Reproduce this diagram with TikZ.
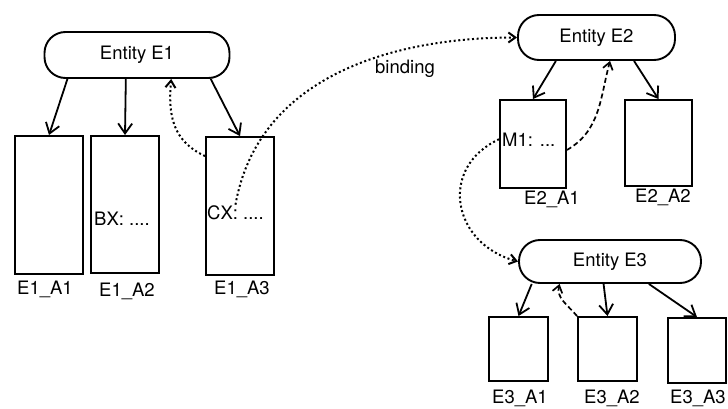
\documentclass[tikz,border=0pt]{standalone}
\usepackage{fontspec}
\setmainfont{TeX Gyre Heros}
\usepackage{tikz}
\usetikzlibrary{arrows.meta}

\begin{document}
\begin{tikzpicture}[
  x=1pt, y=1pt,
  font=\fontsize{18.5}{22}\selectfont,
  entity/.style={draw, line width=1.9pt, rounded corners=21pt, inner sep=0pt},
  attr/.style={draw, line width=1.9pt, inner sep=0pt},
  slot/.style={anchor=west, inner sep=1pt},
  lbl/.style={inner sep=0pt},
  arrow/.style={-{Straight Barb[length=10pt,width=14pt]}, line width=1.8pt},
  dotarrow/.style={-{Straight Barb[length=7pt,width=10pt]}, line width=2pt, dash pattern=on 2pt off 2.6pt},
  dasharrow/.style={-{Straight Barb[length=7pt,width=10pt]}, line width=1.7pt, dash pattern=on 5pt off 3pt}
]
\useasboundingbox (0,0) rectangle (728,408);

% entities
\node[entity, minimum width=185pt, minimum height=46pt] (e1) at (137,353) {Entity E1};
\node[entity, minimum width=157pt, minimum height=45pt] (e2) at (596.5,370.5) {Entity E2};
\node[entity, minimum width=182pt, minimum height=43pt] (e3) at (610,146.5) {Entity E3};

% attributes
\node[attr, minimum width=68pt, minimum height=138pt] (e1a1) at (49,203) {};
\node[attr, minimum width=68pt, minimum height=137pt] (e1a2) at (125,203.5) {};
\node[attr, minimum width=68pt, minimum height=138pt] (e1a3) at (240,202) {};
\node[attr, minimum width=66pt, minimum height=88pt] (e2a1) at (533,264) {};
\node[attr, minimum width=67pt, minimum height=86pt] (e2a2) at (658.5,265) {};
\node[attr, minimum width=59pt, minimum height=64pt] (e3a1) at (518.5,59) {};
\node[attr, minimum width=59pt, minimum height=64pt] (e3a2) at (607.5,59) {};
\node[attr, minimum width=58pt, minimum height=65pt] (e3a3) at (697,57.5) {};

% names under the attributes
\node[lbl] (n11) at (45,119) {E1\_A1};
\node[lbl] (n12) at (127,117) {E1\_A2};
\node[lbl] (n13) at (242,119) {E1\_A3};
\node[lbl] (n21) at (552,209) {E2\_A1};
\node[lbl] (n22) at (663,211) {E2\_A2};
\node[lbl] (n31) at (520,10) {E3\_A1};
\node[lbl] (n32) at (612,10) {E3\_A2};
\node[lbl] (n33) at (698,9.5) {E3\_A3};

% slots
\node[slot] (bx) at (93,189) {BX: ....};
\node[slot] (cx) at (206,195) {CX: ....};
\node[slot] (m1) at (501,268) {M1: ...};

\draw[arrow] (e1.-161) -- (e1a1.north);
\draw[arrow] (e1.-115) -- (e1a2.north);
\draw[arrow] (e1.-18) -- (e1a3.north);
\draw[arrow] (e2.-150) -- (e2a1.north);
\draw[arrow] (e2.-32) -- (e2a2.north);
\draw[arrow] (e3.-164) -- (e3a1.north);
\draw[arrow] (e3.-106) -- (e3a2.north);
\draw[arrow] (e3.-30) -- (e3a3.north);

\draw[dotarrow] (e1a3.125) to[out=155, in=-95, looseness=1.1] (e1.-35);
\draw[dotarrow] (cx.north) to[out=80, in=180] (e2.west);
\node[lbl] (bind) at (405,339) {binding};
\draw[dasharrow] (e2a1.-10) to[out=30, in=-105] (e2.-60);
\draw[dotarrow] (e2a1.172) to[out=205, in=165, looseness=1.4] (e3.west);
\draw[dasharrow] (e3a2.north west) to[out=130, in=-105] (e3.-156);
\end{tikzpicture}
\end{document}
